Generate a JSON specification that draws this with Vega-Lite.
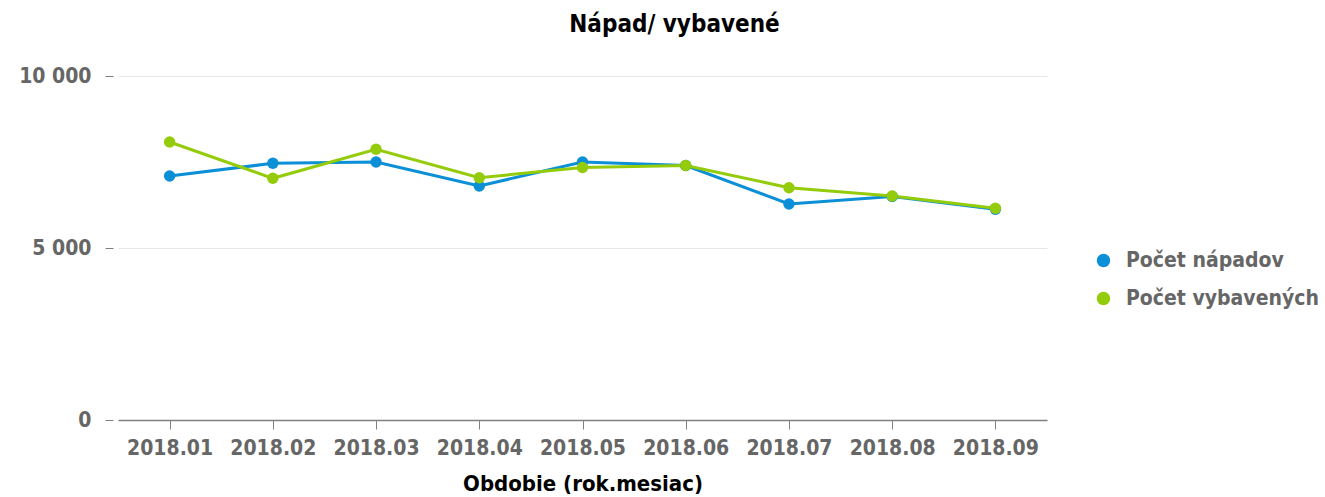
{
  "$schema": "https://vega.github.io/schema/vega-lite/v6.json",
  "autosize": "none",
  "width": 929,
  "height": 344,
  "padding": {"left": 118, "top": 76, "right": 278, "bottom": 77},
  "background": "white",
  "title": {
    "text": "Nápad/ vybavené",
    "font": "DejaVu Sans Condensed",
    "fontWeight": "bold",
    "fontSize": 24,
    "color": "#000000",
    "dx": 92,
    "offset": 28
  },
  "data": {
    "values": [
      {"period": "2018.01", "series": "Počet nápadov", "value": 7093},
      {"period": "2018.02", "series": "Počet nápadov", "value": 7462},
      {"period": "2018.03", "series": "Počet nápadov", "value": 7500},
      {"period": "2018.04", "series": "Počet nápadov", "value": 6802},
      {"period": "2018.05", "series": "Počet nápadov", "value": 7500},
      {"period": "2018.06", "series": "Počet nápadov", "value": 7398},
      {"period": "2018.07", "series": "Počet nápadov", "value": 6279},
      {"period": "2018.08", "series": "Počet nápadov", "value": 6497},
      {"period": "2018.09", "series": "Počet nápadov", "value": 6125},
      {"period": "2018.01", "series": "Počet vybavených", "value": 8081},
      {"period": "2018.02", "series": "Počet vybavených", "value": 7026},
      {"period": "2018.03", "series": "Počet vybavených", "value": 7869},
      {"period": "2018.04", "series": "Počet vybavených", "value": 7044},
      {"period": "2018.05", "series": "Počet vybavených", "value": 7340},
      {"period": "2018.06", "series": "Počet vybavených", "value": 7398},
      {"period": "2018.07", "series": "Počet vybavených", "value": 6753},
      {"period": "2018.08", "series": "Počet vybavených", "value": 6512},
      {"period": "2018.09", "series": "Počet vybavených", "value": 6154}
    ]
  },
  "mark": {"type": "line", "strokeWidth": 3, "point": {"filled": true, "size": 130, "opacity": 1}},
  "encoding": {
    "x": {
      "field": "period",
      "type": "ordinal",
      "scale": {"type": "point", "padding": 0.5},
      "axis": {
        "title": "Obdobie (rok.mesiac)",
        "titleFont": "DejaVu Sans Condensed",
        "titleFontWeight": "bold",
        "titleFontSize": 22,
        "titleColor": "#000000",
        "titlePadding": 15,
        "labelAngle": 0,
        "labelFont": "DejaVu Sans Condensed",
        "labelFontWeight": "bold",
        "labelFontSize": 21,
        "labelColor": "#666666",
        "labelPadding": 8,
        "domainColor": "#808080",
        "domainWidth": 1.5,
        "tickColor": "#808080",
        "tickSize": 9,
        "grid": false
      }
    },
    "y": {
      "field": "value",
      "type": "quantitative",
      "scale": {"domain": [0, 10000], "nice": false},
      "axis": {
        "title": null,
        "values": [0, 5000, 10000],
        "labelExpr": "replace(format(datum.value, ','), ',', ' ')",
        "labelFont": "DejaVu Sans Condensed",
        "labelFontWeight": "bold",
        "labelFontSize": 21,
        "labelColor": "#666666",
        "labelPadding": 14,
        "domain": false,
        "tickColor": "#808080",
        "tickSize": 8,
        "offset": 5,
        "grid": true,
        "gridColor": "#e6e6e6",
        "gridWidth": 1
      }
    },
    "color": {
      "field": "series",
      "type": "nominal",
      "scale": {"domain": ["Počet nápadov", "Počet vybavených"], "range": ["#0b8fd6", "#94cc0b"]},
      "legend": {
        "title": null,
        "orient": "none",
        "legendX": 975,
        "legendY": 174,
        "symbolType": "circle",
        "symbolSize": 180,
        "symbolStrokeWidth": 0,
        "labelFont": "DejaVu Sans Condensed",
        "labelFontWeight": "bold",
        "labelFontSize": 21,
        "labelLimit": 400,
        "labelColor": "#666666",
        "labelOffset": 12,
        "rowPadding": 16
      }
    }
  },
  "config": {"view": {"stroke": null}}
}
